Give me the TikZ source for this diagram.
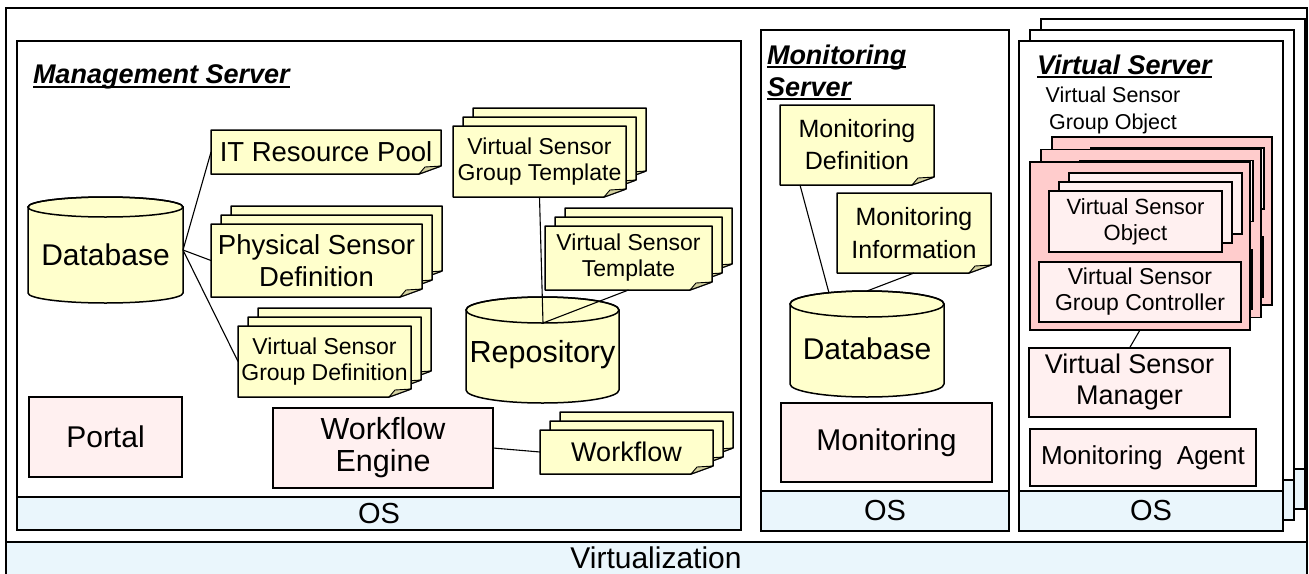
\documentclass[tikz,border=0pt]{standalone}
\usepackage{fontspec}
\setmainfont{Liberation Sans}
\usetikzlibrary{calc}
\definecolor{notey}{RGB}{255,255,204}
\definecolor{foldc}{RGB}{212,210,160}
\definecolor{pinkl}{RGB}{255,240,240}
\definecolor{pinkd}{RGB}{255,204,204}
\definecolor{bluel}{RGB}{234,246,252}
\newcommand\fsz[2]{\fontsize{#1}{#2}\selectfont}
% note with folded corner: [font] name, L, T, R, B, text
\newcommand\mknote[7][]{%
  \path[notefill] (#3,#4) -- (#5,#4) -- (#5,#6-8) -- (#5-22,#6) -- (#3,#6) -- cycle;
  \path[foldfill] (#5-22,#6) -- (#5,#6-8) -- (#5-16,#6-7) -- cycle;
  \node[txt, font=#1, minimum width={(#5)*1pt-(#3)*1pt}, minimum height={(#6)*1pt-(#4)*1pt}] (#2) at ({(#3+#5)/2},{(#4+#6)/2}) {#7};}
\newcommand\stacknote[7][]{%
  \mknote{#2-3}{#3+20}{#4-18}{#5+20}{#6-18}{}%
  \mknote{#2-2}{#3+10}{#4-9}{#5+10}{#6-9}{}%
  \mknote[#1]{#2}{#3}{#4}{#5}{#6}{#7}}
% plain box: [font] name, L, T, R, B, text
\newcommand\mkbox[7][]{\node[pinkbox, font=#1, minimum width={(#5)*1pt-(#3)*1pt}, minimum height={(#6)*1pt-(#4)*1pt}] (#2) at ({(#3+#5)/2},{(#4+#6)/2}) {#7};}
% cylinder: [font] name, L, T, R, B, ry, text
\newcommand\mkcyl[8][]{%
  \path[cylfill] (#3,#4+#7) -- (#3,#6-#7) arc[start angle=180, end angle=0, x radius={(#5-#3)/2}, y radius=#7] -- (#5,#4+#7) arc[start angle=0, end angle=-180, x radius={(#5-#3)/2}, y radius=#7] -- cycle;
  \path[cylline] ({(#3+#5)/2},#4+#7) ellipse[x radius={(#5-#3)/2}, y radius=#7];
  \node[txt, font=#1, minimum width={(#5)*1pt-(#3)*1pt}, minimum height={(#6)*1pt-(#4)*1pt}] (#2) at ({(#3+#5)/2},{(#4+#6)/2}) {\raisebox{-5pt}[\height][\depth]{#8}};}
% virtual sensor group object: suffix, dx, dy, object text, controller text
\newcommand\vsgroup[5]{%
  \begin{scope}[shift={(#2,#3)}]
  \mkbox{grp#1}{1030}{162}{1250}{330}{}
  \path[grpfill] (grp#1.north west) rectangle (grp#1.south east);
  \mkbox{vso-3#1}{1069}{173}{1242}{234}{}
  \mkbox{vso-2#1}{1059}{182}{1232}{243}{}
  \mkbox[\fsz{22}{26}]{vso#1}{1049}{191}{1222}{252}{#4}
  \mkbox[\fsz{23}{26}]{vsgc#1}{1039}{262}{1241}{322}{#5}
  \end{scope}}
% virtual server copy (frame and OS band): dx, dy
\newcommand\vserver[2]{%
  \begin{scope}[shift={(#1,#2)}]
  \path[srvframe, fill=white] (1019,41) rectangle (1283,531);
  \path[band] (1019,491) rectangle (1283,531);
  \end{scope}}
\begin{document}
\begin{tikzpicture}[x=1pt,y=-1pt,
  txt/.style={inner sep=0pt, outer sep=0pt, align=center},
  srvframe/.style={draw=black, line width=1.6pt},
  notefill/.style={fill=notey, draw=black, line width=1.5pt, line join=round},
  foldfill/.style={fill=foldc, draw=black, line width=0.9pt, line join=round},
  pinkbox/.style={txt, fill=pinkl, draw=black, line width=1.5pt},
  grpfill/.style={fill=pinkd, draw=black, line width=1.5pt},
  band/.style={fill=bluel, draw=black, line width=1.6pt},
  conn/.style={draw=black, line width=1.1pt},
  cylfill/.style={fill=notey, draw=black, line width=1.5pt},
  cylline/.style={draw=black, line width=1.5pt},
  ttl/.style={txt, anchor=base west},
  uline/.style={draw=black, line width=1.8pt},
]
\useasboundingbox (0,0) rectangle (1309,573);
\clip (0,0) rectangle (1309,573);
% outer frame and virtualization layer
\path[srvframe, fill=white] (6,8) rectangle (1307,610);
\path[band] (6,542) rectangle (1307,610);
\node[txt, font=\fsz{30}{34}] (virt) at (656,558) {Virtualization};

% ===== Management server =====
\path[srvframe, fill=white] (17,41) rectangle (741,530);
\path[band] (17,497) rectangle (741,530);
\node[txt, font=\fsz{29}{33}] (os-mgmt) at (379,513.5) {OS};
\node[ttl, font=\fsz{27}{31}\bfseries\itshape] (mgmt-title) at (33,83) {Management Server};
\draw[uline] ($(mgmt-title.base west)+(0,4)$) -- ($(mgmt-title.base east)+(0,4)$);

\mknote[\fsz{27.5}{32}]{itpool}{211}{130}{441}{174}{IT Resource Pool}
\mkcyl[\fsz{30}{34}]{db1}{28}{197}{183}{303}{10}{Database}
\stacknote[\fsz{27.5}{32}]{psd}{211}{224}{422}{297}{Physical Sensor\\Definition}
\stacknote[\fsz{23}{26}]{vsgd}{238}{326}{411}{397}{Virtual Sensor\\Group Definition}
\stacknote[\fsz{23}{26}]{vsgt}{453}{126}{626}{197}{Virtual Sensor\\Group Template}
\stacknote[\fsz{23}{26}]{vst}{545}{226}{712}{290}{Virtual Sensor\\Template}
\mkcyl[\fsz{30.5}{34}]{repo}{466}{297}{619}{403}{13}{Repository}
\coordinate (repo-top) at (543,323);
\mkbox[\fsz{30}{34}]{portal}{29}{397}{182}{477}{Portal}
\mkbox[\fsz{30.5}{32}]{wfe}{273}{408}{493}{488}{Workflow\\Engine}
\stacknote[\fsz{27}{31}]{wf}{540}{430}{713}{474}{Workflow}

\draw[conn] (db1.east) -- (itpool.west);
\draw[conn] (db1.east) -- (psd.west);
\draw[conn] (db1.east) -- (vsgd.west);
\draw[conn] (vsgt.south) -- (repo-top);
\draw[conn] (vst.south) -- (repo-top);
\draw[conn] (wfe.east) -- (wf.west);

% ===== Monitoring server =====
\path[srvframe, fill=white] (761,30) rectangle (1009,531);
\path[band] (761,491) rectangle (1009,531);
\node[txt, font=\fsz{29}{33}] (os-mon) at (885,511) {OS};
\node[ttl, font=\fsz{27}{31}\bfseries\itshape] (mon-title1) at (767,64) {Monitoring};
\draw[uline] ($(mon-title1.base west)+(0,3)$) -- ($(mon-title1.base east)+(0,3)$);
\node[ttl, font=\fsz{27}{31}\bfseries\itshape] (mon-title2) at (767,96) {Server};
\draw[uline] ($(mon-title2.base west)+(0,3)$) -- ($(mon-title2.base east)+(0,3)$);

\mknote[\fsz{25}{32}]{md}{780}{105}{934}{185}{Monitoring\\Definition}
\mknote[\fsz{25}{33}]{mi}{837}{193}{991}{273}{Monitoring\\Information}
\mkcyl[\fsz{30}{34}]{mondb}{790}{291}{944}{397}{13}{Database}
\mkbox[\fsz{30}{34}]{mon}{781}{403}{992}{482}{Monitoring}
\draw[conn] ($(md.south west)+(20,0)$) -- ($(mondb.north)+(-38,2)$);
\draw[conn] (mi.south) -- (mondb.north);

% ===== Virtual servers =====
\vserver{22}{-22}
\vserver{11}{-11}
\vserver{0}{0}
\node[txt, font=\fsz{29}{33}] (os-vs) at (1151,511) {OS};
\node[ttl, font=\fsz{27}{31}\bfseries\itshape] (vs-title) at (1037,74) {Virtual Server};
\draw[uline] ($(vs-title.base west)+(0,3)$) -- ($(vs-title.base east)+(0,3)$);
\node[txt, font=\fsz{21.5}{27}] (grp-label) at (1113,110) {Virtual Sensor\\Group Object};

\vsgroup{-c}{22}{-25}{}{}
\vsgroup{-b}{11}{-12.5}{}{}
\vsgroup{}{0}{0}{Virtual Sensor\\Object}{Virtual Sensor\\Group Controller}

\mkbox[\fsz{27}{31}]{vsm}{1029}{348}{1230}{417}{Virtual Sensor\\Manager}
\mkbox[\fsz{26}{30}]{agent}{1030}{429}{1256}{486}{Monitoring\ \ Agent}
\draw[conn] (grp.south) -- (vsm.north);
\end{tikzpicture}
\end{document}
